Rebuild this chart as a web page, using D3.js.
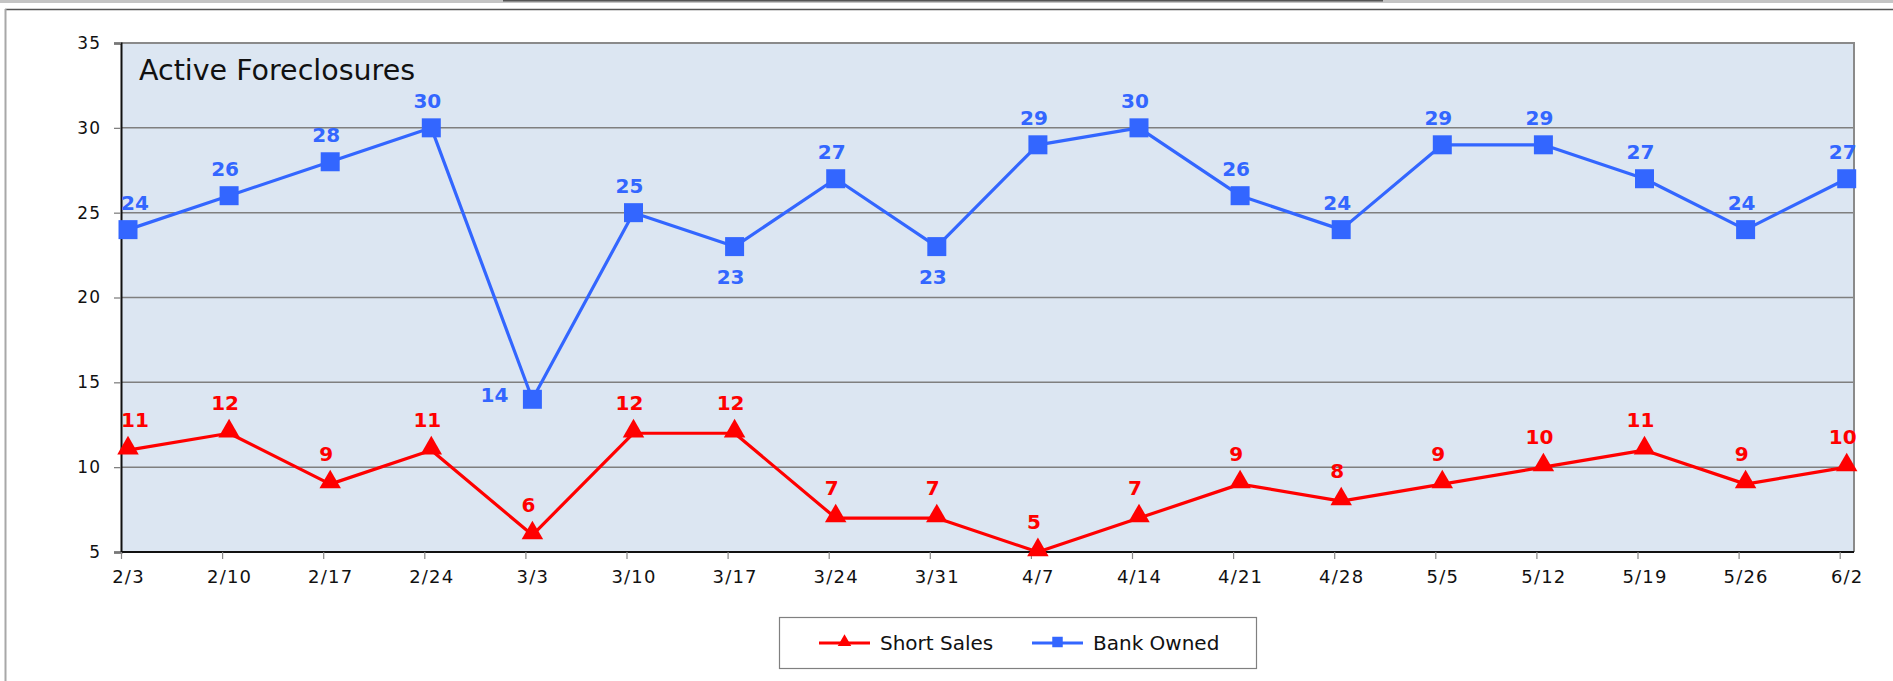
<!DOCTYPE html>
<html>
<head>
<meta charset="utf-8">
<script src="https://cdn.jsdelivr.net/npm/d3@7"></script>
<style>
  body { margin: 0; background: #fff; }
  svg { display: block; font-family: "DejaVu Sans", sans-serif; }
</style>
</head>
<body>
<div id="chart"></div>
<script>
// Chart data
const dates = ["2/3", "2/10", "2/17", "2/24", "3/3", "3/10", "3/17", "3/24", "3/31",
               "4/7", "4/14", "4/21", "4/28", "5/5", "5/12", "5/19", "5/26", "6/2"];
const shortSales = [11, 12, 9, 11, 6, 12, 12, 7, 7, 5, 7, 9, 8, 9, 10, 11, 9, 10];
const bankOwned = [24, 26, 28, 30, 14, 25, 23, 27, 23, 29, 30, 26, 24, 29, 29, 27, 24, 27];
const yTicks = [5, 10, 15, 20, 25, 30, 35];

// Layout constants
const WIDTH = 1893;
const HEIGHT = 681;
const PLOT = {left: 121, right: 1854, top: 43, bottom: 552};
const TICK_STEP = 101.1;   // distance between category ticks
const POINT_SHIFT = 7;     // markers sit slightly right of their tick
const COLOUR_RED = "#ff0000";
const COLOUR_BLUE = "#3366ff";
const COLOUR_PLOT = "#dce6f2";
const COLOUR_GRID = "#7f7f7f";
const FONT = "DejaVu Sans, sans-serif";

let svg = d3.select("#chart")
            .append("svg")
            .attr("width", WIDTH)
            .attr("height", HEIGHT);

// outer frame bits
svg.append("rect").attr("x", 0).attr("y", 0).attr("width", WIDTH).attr("height", 3).attr("fill", "#c4c4c4");
svg.append("rect").attr("x", 503).attr("y", 0).attr("width", 880).attr("height", 1.5).attr("fill", "#555");
svg.append("line").attr("x1", 5).attr("x2", WIDTH).attr("y1", 9.5).attr("y2", 9.5)
   .attr("stroke", "#555").attr("stroke-width", 1.5);
svg.append("line").attr("x1", 5.5).attr("x2", 5.5).attr("y1", 9).attr("y2", HEIGHT)
   .attr("stroke", "#a8a8a8").attr("stroke-width", 2);

// Scales
let x = d3.scalePoint()
          .domain(dates)
          .range([PLOT.left, PLOT.left + TICK_STEP * (dates.length - 1)]);

let y = d3.scaleLinear()
          .domain([5, 35])
          .range([PLOT.bottom, PLOT.top]);

let px = d => x(d) + POINT_SHIFT;

// plot background
svg.append("rect")
   .attr("x", PLOT.left).attr("y", PLOT.top)
   .attr("width", PLOT.right - PLOT.left).attr("height", PLOT.bottom - PLOT.top)
   .attr("fill", COLOUR_PLOT);

// gridlines
svg.append("g")
   .selectAll("line")
   .data(yTicks.slice(1, -1))
   .join("line")
   .attr("x1", PLOT.left).attr("x2", PLOT.right)
   .attr("y1", d => y(d)).attr("y2", d => y(d))
   .attr("stroke", COLOUR_GRID)
   .attr("stroke-width", 1.5);

// top and right border
svg.append("path")
   .attr("d", `M${PLOT.left},${PLOT.top}H${PLOT.right}V${PLOT.bottom}`)
   .attr("fill", "none")
   .attr("stroke", "#8a8a8a")
   .attr("stroke-width", 2);

// Axes
let yAxis = d3.axisLeft(y).tickValues(yTicks).tickSize(7).tickPadding(13);
let gy = svg.append("g")
            .attr("transform", `translate(${PLOT.left},0)`)
            .call(yAxis);
gy.select(".domain").attr("stroke", "#111").attr("stroke-width", 2);
gy.selectAll(".tick line").attr("stroke", "#777").attr("stroke-width", 1.2);
gy.selectAll(".tick text")
  .attr("font-size", 17).attr("letter-spacing", 1).attr("fill", "#111")
  .attr("font-family", FONT);

let xAxis = d3.axisBottom(x).tickSize(7).tickSizeOuter(0).tickPadding(11);
let gx = svg.append("g")
            .attr("transform", `translate(0,${PLOT.bottom})`)
            .call(xAxis);
gx.select(".domain").attr("d", `M${PLOT.left},0H${PLOT.right}`)
  .attr("stroke", "#111").attr("stroke-width", 2);
gx.selectAll(".tick line").attr("stroke", "#888").attr("stroke-width", 1.2);
// category labels are centred on the markers, not the ticks
gx.selectAll(".tick text")
  .attr("x", POINT_SHIFT)
  .attr("font-size", 18).attr("letter-spacing", 1.2).attr("fill", "#111")
  .attr("font-family", FONT);

// Title
svg.append("text")
   .attr("x", 139).attr("y", 80)
   .attr("font-size", 28.5)
   .attr("fill", "#111")
   .text("Active Foreclosures");

// Lines
let line = values => d3.line()
                        .x((d, i) => px(dates[i]))
                        .y(d => y(d))(values);

svg.append("path")
   .attr("d", line(bankOwned))
   .attr("fill", "none")
   .attr("stroke", COLOUR_BLUE)
   .attr("stroke-width", 3.2)
   .attr("stroke-linejoin", "round");

svg.append("path")
   .attr("d", line(shortSales))
   .attr("fill", "none")
   .attr("stroke", COLOUR_RED)
   .attr("stroke-width", 3.2)
   .attr("stroke-linejoin", "round");

// Markers
let square = d3.symbol().type(d3.symbolSquare).size(19 * 19);
let triangle = d3.symbol().type(d3.symbolTriangle).size(200);

svg.append("g")
   .selectAll("path")
   .data(bankOwned)
   .join("path")
   .attr("d", square)
   .attr("transform", (d, i) => `translate(${px(dates[i])},${y(d)})`)
   .attr("fill", COLOUR_BLUE);

svg.append("g")
   .selectAll("path")
   .data(shortSales)
   .join("path")
   .attr("d", triangle)
   .attr("transform", (d, i) => `translate(${px(dates[i])},${y(d) - 2})`)
   .attr("fill", COLOUR_RED);

// Data labels
// a few blue labels sit below / left of the point to dodge the line
const blueBelow = new Set(["3/17", "3/31"]);
const blueLeft = new Set(["3/3"]);
// first labels get pushed inside the plot area
let labelX = i => Math.max(px(dates[i]) - 4, PLOT.left + 14);

svg.append("g")
   .selectAll("text")
   .data(bankOwned)
   .join("text")
   .attr("x", (d, i) => blueLeft.has(dates[i]) ? px(dates[i]) - 24 : labelX(i))
   .attr("y", (d, i) => {
       if (blueBelow.has(dates[i])) return y(d) + 37;
       if (blueLeft.has(dates[i])) return y(d) + 3;
       return y(d) - 20;
   })
   .attr("text-anchor", (d, i) => blueLeft.has(dates[i]) ? "end" : "middle")
   .attr("font-size", 20)
   .attr("font-weight", 700)
   .attr("fill", COLOUR_BLUE)
   .text(d => d);

svg.append("g")
   .selectAll("text")
   .data(shortSales)
   .join("text")
   .attr("x", (d, i) => labelX(i))
   .attr("y", d => y(d) - 23)
   .attr("text-anchor", "middle")
   .attr("font-size", 20)
   .attr("font-weight", 700)
   .attr("fill", COLOUR_RED)
   .text(d => d);

// Legend
let legend = svg.append("g");
legend.append("rect")
      .attr("x", 779.5).attr("y", 617.5)
      .attr("width", 477).attr("height", 51)
      .attr("fill", "#fff")
      .attr("stroke", "#808080")
      .attr("stroke-width", 1.2);

const legendItems = [
    {name: "Short Sales", colour: COLOUR_RED, symbol: d3.symbol().type(d3.symbolTriangle).size(80), x0: 819},
    {name: "Bank Owned", colour: COLOUR_BLUE, symbol: d3.symbol().type(d3.symbolSquare).size(110), x0: 1032}
];

legendItems.forEach(item => {
    let g = legend.append("g").attr("transform", `translate(${item.x0},643)`);
    g.append("line").attr("x1", 0).attr("x2", 51).attr("y1", 0).attr("y2", 0)
     .attr("stroke", item.colour).attr("stroke-width", 3);
    g.append("path").attr("d", item.symbol()).attr("transform", "translate(25.5,-1)")
     .attr("fill", item.colour);
    g.append("text").attr("x", 61).attr("y", 7)
     .attr("font-size", 20).attr("fill", "#111")
     .text(item.name);
});
</script>
</body>
</html>
